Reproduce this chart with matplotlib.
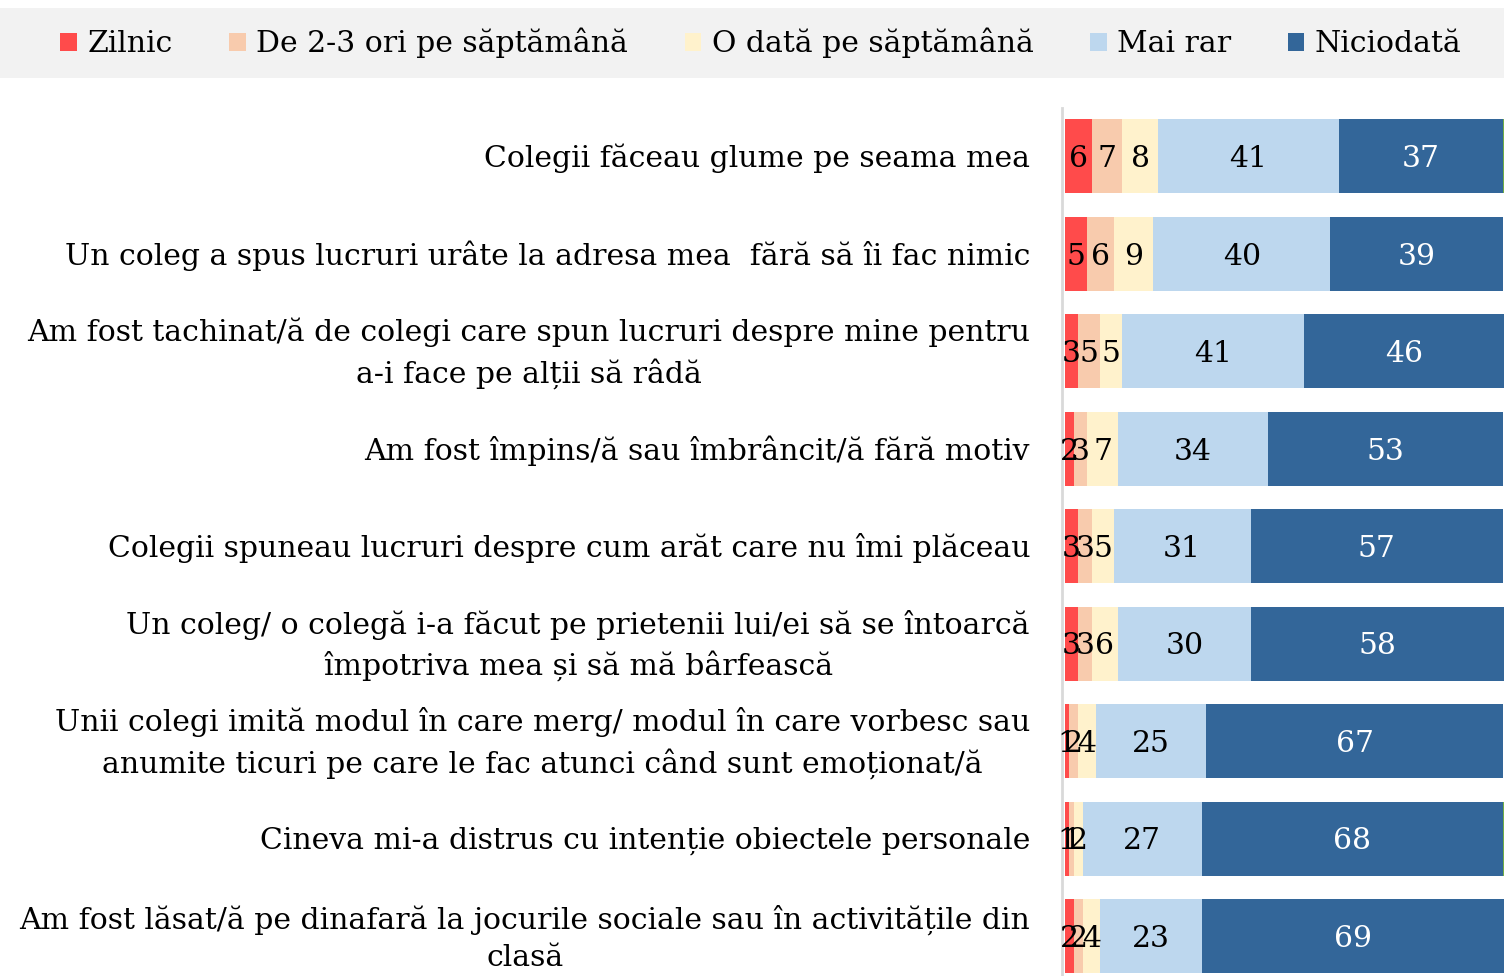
import matplotlib
matplotlib.use("Agg")
import matplotlib.pyplot as plt
import matplotlib.transforms as mtransforms
from matplotlib.patches import Rectangle

# categories (top to bottom)
categories = [
    "Colegii făceau glume pe seama mea",
    "Un coleg a spus lucruri urâte la adresa mea  fără să îi fac nimic",
    "Am fost tachinat/ă de colegi care spun lucruri despre mine pentru\na-i face pe alții să râdă",
    "Am fost împins/ă sau îmbrâncit/ă fără motiv",
    "Colegii spuneau lucruri despre cum arăt care nu îmi plăceau",
    "Un coleg/ o colegă i-a făcut pe prietenii lui/ei să se întoarcă\nîmpotriva mea și să mă bârfească",
    "Unii colegi imită modul în care merg/ modul în care vorbesc sau\nanumite ticuri pe care le fac atunci când sunt emoționat/ă",
    "Cineva mi-a distrus cu intenție obiectele personale",
    "Am fost lăsat/ă pe dinafară la jocurile sociale sau în activitățile din\nclasă",
]

series_names = ["Zilnic", "De 2-3 ori pe săptămână", "O dată pe săptămână", "Mai rar", "Niciodată"]
zilnic = [6, 5, 3, 2, 3, 3, 1, 1, 2]
de_2_3 = [7, 6, 5, 3, 3, 3, 2, 1, 2]
o_data = [8, 9, 5, 7, 5, 6, 4, 2, 4]
mai_rar = [41, 40, 41, 34, 31, 30, 25, 27, 23]
niciodata = [37, 39, 46, 53, 57, 58, 67, 68, 69]
# unlabeled remainder (thin green sliver at the right edge)
rest = [1, 0, 0, 0, 0, 0, 0, 1, 0]

colors = ["#FF4B4B", "#F8CBAD", "#FFF2CC", "#BDD7EE", "#336699"]
text_colors = ["black", "black", "black", "black", "white"]

plt.rcParams['font.family'] = ['DejaVu Serif']
FS = 21.5

fig = plt.figure(figsize=(15.04, 9.76), dpi=100)
ax = fig.add_axes([1065 / 1504, -8.7 / 976, 439 / 1504, 877 / 976])

# legend band
fig.patches.append(Rectangle((0, (976 - 78) / 976), 1, 70 / 976, transform=fig.transFigure,
                             facecolor="#F2F2F2", edgecolor="none", zorder=0))

y = list(range(len(categories)))
left = [0] * len(categories)
handles = []
for vals, name, col, tcol in zip([zilnic, de_2_3, o_data, mai_rar, niciodata], series_names, colors, text_colors):
    bars = ax.barh(y, vals, left=left, height=0.76, color=col, label=name)
    labels = ax.bar_label(bars, labels=[str(v) for v in vals], label_type='center', color=tcol, fontsize=FS)
    for t in labels:
        t.xyann = (0, -2)  # nudge down a little, like the original
    handles.append(bars)
    left = [a + b for a, b in zip(left, vals)]
ax.barh(y, rest, left=left, height=0.76, color="#70AD47")

ax.set_xlim(0, 99.3)
ax.set_ylim(8.5, -0.5)
ax.set_yticks(y)
ax.set_yticklabels([])
ax.tick_params(axis='y', length=0)
ax.tick_params(axis='x', bottom=False, labelbottom=False)

# category labels: right edge at fixed offset, lines centred within the block
trans = mtransforms.blended_transform_factory(ax.transAxes, ax.transData)
for yi, cat in zip(y, categories):
    ax.text(-35 / 439, yi + 0.02, cat, transform=trans, ha='right', va='center',
            multialignment='center', fontsize=FS, linespacing=1.42)

for s in ['top', 'right', 'bottom']:
    ax.spines[s].set_visible(False)
ax.spines['left'].set_color('#D9D9D9')
ax.spines['left'].set_linewidth(2)
ax.spines['left'].set_position(('outward', 2))

fig.legend(handles=handles, loc='center', bbox_to_anchor=(761 / 1504, (976 - 43) / 976), ncol=5,
           frameon=False, fontsize=FS, handlelength=0.55, handleheight=0.55, handletextpad=0.35,
           columnspacing=1.9)

fig.savefig("out.png", dpi=100)
